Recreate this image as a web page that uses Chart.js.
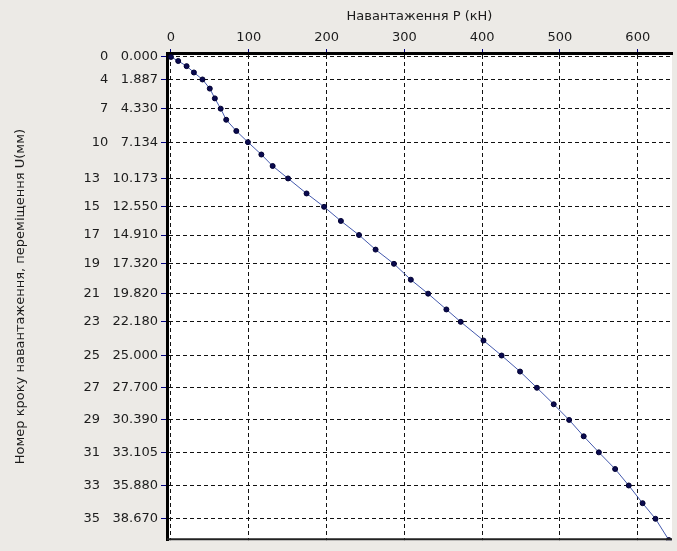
<!DOCTYPE html>
<html>
<head>
<meta charset="utf-8">
<script src="https://cdn.jsdelivr.net/npm/chart.js@4/dist/chart.umd.min.js"></script>
<style>
  html, body { margin: 0; padding: 0; background: #ECEAE6; }
  #wrap { width: 677px; height: 551px; }
</style>
</head>
<body>
<div id="wrap"><canvas id="pileChart" width="677" height="551"></canvas></div>
<script>
// Навантаження P (кН) для кожного кроку
const loadP = [0, 9.3, 20.1, 29.5, 40.5, 49.9, 56.4, 63.9, 71.0, 84.0, 98.9,
  116.2, 130.7, 150.5, 174.3, 196.8, 218.4, 241.7, 263.0, 286.6, 308.3,
  330.5, 354.0, 372.4, 401.7, 425.0, 448.7, 470.4, 492.0, 511.8, 530.5,
  550.0, 570.9, 588.4, 606.2, 622.8, 640.0];
// Переміщення U (мм)
const dispU = [0, 0.34, 0.77, 1.30, 1.887, 2.65, 3.47, 4.330, 5.26, 6.20, 7.134,
  8.17, 9.13, 10.173, 11.43, 12.550, 13.73, 14.910, 16.13, 17.320, 18.65,
  19.820, 21.14, 22.180, 23.74, 25.000, 26.34, 27.700, 29.08, 30.390, 31.76,
  33.105, 34.50, 35.880, 37.36, 38.670, 40.45];

// підписи осі Y: номер кроку + переміщення
const tickSteps = [0, 4, 7, 10, 13, 15, 17, 19, 21, 23, 25, 27, 29, 31, 33, 35];
const tickU = [0, 1.887, 4.330, 7.134, 10.173, 12.550, 14.910, 17.320, 19.820,
  22.180, 25.000, 27.700, 30.390, 33.105, 35.880, 38.670];
const xTicks = [0, 100, 200, 300, 400, 500, 600];

const xTitle = 'Навантаження P (кН)';
const yTitle = 'Номер кроку навантаження, переміщення U(мм)';

const txt = '#1c1c1c';
const fnt = { family: 'DejaVu Sans', size: 13 };

// білий фон області графіка + нижня рамка
const framePlugin = {
  id: 'frame',
  beforeDraw(chart) {
    const { ctx, chartArea: a } = chart;
    ctx.save();
    ctx.fillStyle = '#ffffff';
    ctx.fillRect(a.left, a.top, a.right - a.left, a.bottom - a.top);
    ctx.restore();
  },
  afterDraw(chart) {
    const { ctx, chartArea: a } = chart;
    ctx.save();
    ctx.strokeStyle = '#222';
    ctx.lineWidth = 2;
    ctx.beginPath();
    ctx.moveTo(a.left, a.bottom - 1);
    ctx.lineTo(a.right, a.bottom - 1);
    ctx.stroke();
    ctx.restore();
  }
};

const ctx = document.getElementById('pileChart').getContext('2d');
const pileChart = new Chart(ctx, {
  type: 'scatter',
  data: {
    datasets: [{
      data: loadP.map((p, i) => ({ x: p, y: dispU[i] })),
      showLine: true,
      borderColor: '#4459ad',
      borderWidth: 1,
      pointRadius: 2.5,
      pointBackgroundColor: '#0a0a50',
      pointBorderColor: '#000030',
      pointBorderWidth: 1,
      tension: 0
    }]
  },
  options: {
    responsive: false,
    devicePixelRatio: 1,
    animation: false,
    layout: { padding: 0 },
    plugins: {
      legend: { display: false },
      tooltip: { enabled: false }
    },
    scales: {
      x: {
        type: 'linear',
        position: 'top',
        min: -5.1,
        max: 644,
        afterBuildTicks: (s) => { s.ticks = xTicks.map(v => ({ value: v })); },
        afterFit: (s) => { s.height = 53; },
        ticks: { color: txt, font: fnt, padding: 4, maxRotation: 0 },
        grid: { color: '#111', tickColor: '#000080', tickBorderDash: [], tickLength: 4 },
        border: { display: true, color: '#000', width: 3, dash: [4, 3] },
        title: { display: true, text: xTitle, color: txt, font: fnt, padding: { top: 9, bottom: 0 } }
      },
      y: {
        type: 'linear',
        position: 'left',
        reverse: true,
        min: -0.33,
        max: 40.46,
        afterBuildTicks: (s) => { s.ticks = tickU.map(v => ({ value: v })); },
        afterFit: (s) => { s.width = 167; },
        ticks: {
          color: txt, font: fnt, padding: 3,
          callback: (v, i) => tickSteps[i] + '   ' + Number(v).toFixed(3)
        },
        grid: { color: '#111', tickColor: '#000080', tickBorderDash: [], tickLength: 6 },
        border: { display: true, color: '#000', width: 3, dash: [4, 3] },
        title: { display: true, text: yTitle, color: txt, font: fnt, padding: { top: 13, bottom: 0 } }
      }
    }
  },
  plugins: [framePlugin]
});
</script>
</body>
</html>
